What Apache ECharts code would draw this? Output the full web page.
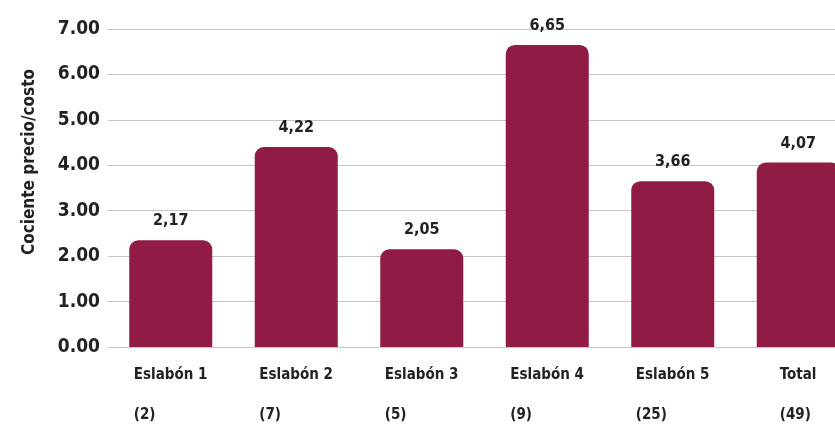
<!DOCTYPE html>
<html><head><meta charset="utf-8">
<script src="https://cdn.jsdelivr.net/npm/echarts@6/dist/echarts.min.js"></script>
<style>html,body{margin:0;padding:0;background:#fff}#c{width:835px;height:425px}</style>
</head><body><div id="c"></div>
<script>
const categories = ['Eslabón 1', 'Eslabón 2', 'Eslabón 3', 'Eslabón 4', 'Eslabón 5', 'Total'];
const counts = ['(2)', '(7)', '(5)', '(9)', '(25)', '(49)'];
const barHeights = [2.35, 4.40, 2.15, 6.65, 3.65, 4.06];
const valueLabels = ['2,17', '4,22', '2,05', '6,65', '3,66', '4,07'];
const yTicks = [0, 1, 2, 3, 4, 5, 6, 7];

const FONT = '"Liberation Sans Narrow", "DejaVu Sans Condensed", "Roboto Condensed", sans-serif';
const TXT = '#222222';
const CAT_FS = 15;
const cv = document.createElement('canvas').getContext('2d');
cv.font = 'bold ' + CAT_FS + 'px ' + FONT;
const rich = {};
categories.forEach((c, i) => {
  const w = Math.ceil(Math.max(cv.measureText(c).width, cv.measureText(counts[i]).width));
  rich['r' + i] = { width: w, align: 'left', fontFamily: FONT, fontWeight: 'bold', fontSize: CAT_FS, color: TXT, lineHeight: 40 };
});

const chart = echarts.init(document.getElementById('c'), null, { renderer: 'canvas' });
chart.setOption({
  animation: false,
  grid: { left: 108, top: 29, width: 753, height: 318, containLabel: false, outerBoundsMode: 'none' },
  xAxis: {
    type: 'category',
    data: categories,
    axisLine: { show: true, lineStyle: { color: '#c6c6c6', width: 1 } },
    axisTick: { show: false },
    axisLabel: {
      margin: 8,
      interval: 0,
      formatter: (v, i) => '{r' + i + '|' + v + '}\n{r' + i + '|' + counts[i] + '}',
      rich: rich
    }
  },
  yAxis: {
    type: 'value',
    min: yTicks[0], max: yTicks[yTicks.length - 1], interval: 1,
    name: 'Cociente precio/costo',
    nameLocation: 'middle',
    nameGap: 70,
    nameRotate: 90,
    nameTextStyle: { fontFamily: FONT, fontWeight: 'bold', fontSize: 17, color: TXT, padding: [0, 0, 0, 52] },
    axisLine: { show: false },
    axisTick: { show: false },
    splitLine: { lineStyle: { color: '#c6c6c6', width: 1 } },
    axisLabel: {
      margin: 8,
      formatter: v => v.toFixed(2),
      fontFamily: FONT, fontWeight: 'bold', fontSize: 19, color: TXT
    }
  },
  series: [{
    type: 'bar',
    data: barHeights,
    barWidth: 83,
    itemStyle: { color: '#901B47', borderRadius: [9, 9, 0, 0] },
    label: {
      show: true, position: 'top', distance: 11,
      formatter: p => valueLabels[p.dataIndex],
      fontFamily: FONT, fontWeight: 'bold', fontSize: 16, color: TXT
    }
  }]
});
</script></body></html>
